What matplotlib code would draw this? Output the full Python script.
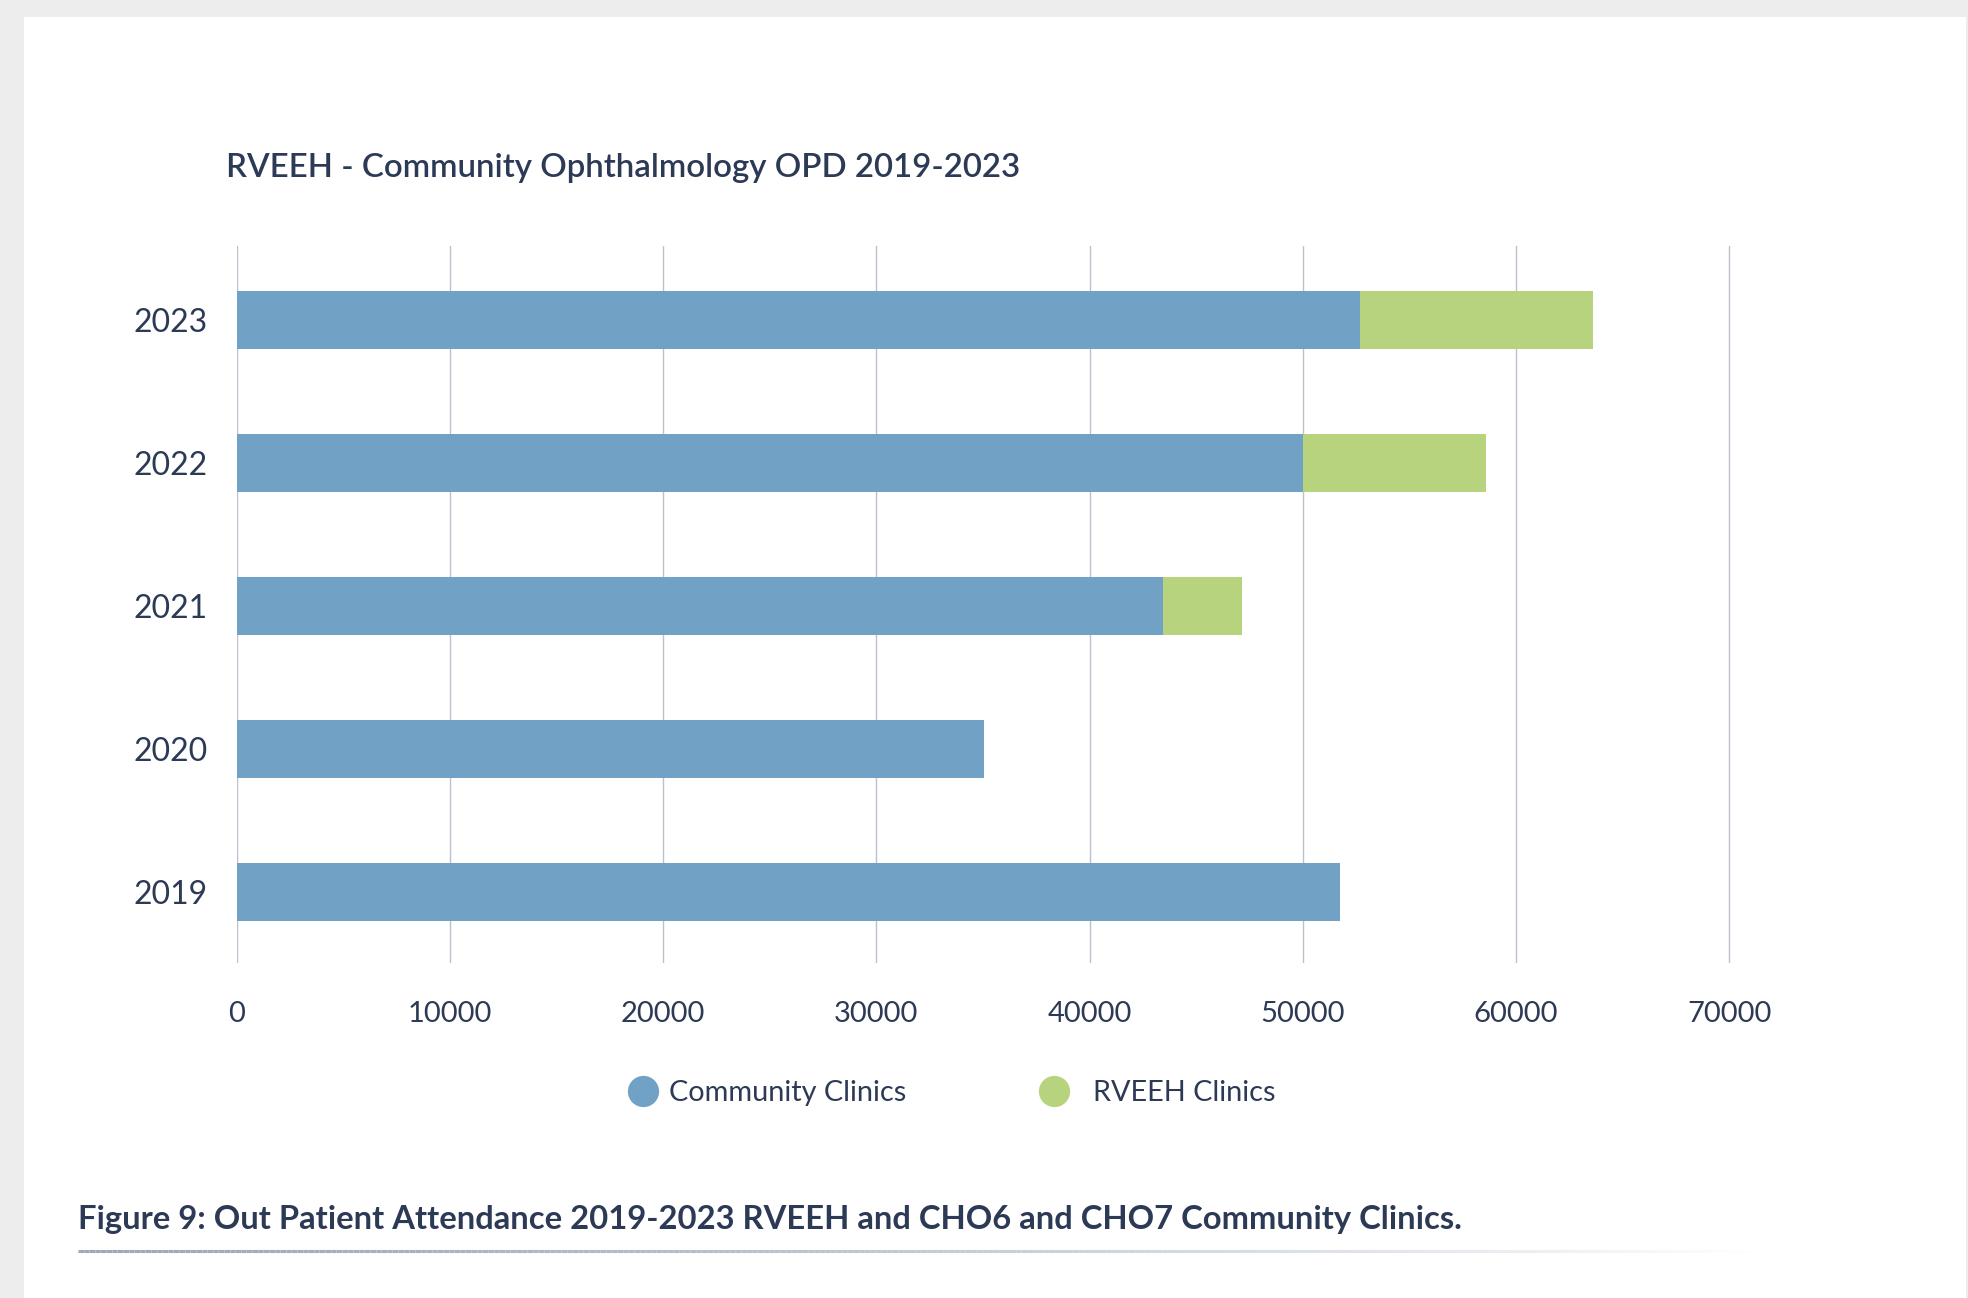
import numpy as np
import matplotlib.pyplot as plt
from matplotlib.lines import Line2D
from matplotlib.patches import Rectangle
from matplotlib.collections import LineCollection

# data
years = ['2019', '2020', '2021', '2022', '2023']
community = [51750, 35050, 43470, 50000, 52680]
rveeh = [0, 0, 3680, 8600, 10930]
xticks = [0, 10000, 20000, 30000, 40000, 50000, 60000, 70000]

title = 'RVEEH - Community Ophthalmology OPD 2019-2023'
caption = 'Figure 9: Out Patient Attendance 2019-2023 RVEEH and CHO6 and CHO7 Community Clinics.'

blue = '#71a2c6'
green = '#b8d37e'
text_col = '#2c3a56'
grid_col = '#bfbfcd'

W, H = 1968, 1298
fig = plt.figure(figsize=(W / 100, H / 100), dpi=100)
fig.patch.set_facecolor('#ededed')

# page background: grey border + white card, in pixel coords
bg = fig.add_axes([0, 0, 1, 1], zorder=-1)
bg.set_xlim(0, W)
bg.set_ylim(H, 0)
bg.axis('off')
bg.add_patch(Rectangle((24, 17), 1942, H - 17, facecolor='white', edgecolor='none'))

# fading rule under the caption
xs = np.linspace(78, 1757, 300)
segs = [[(a, 1251), (b, 1251)] for a, b in zip(xs[:-1], xs[1:])]
fade = 1.0 - np.linspace(0, 1, len(segs)) ** 1.4
rule_rgb = np.array([0x9c, 0xa9, 0xbd]) / 255
cols = [(*rule_rgb, a) for a in fade]
bg.add_collection(LineCollection(segs, colors=cols, linewidths=2.2, capstyle='butt'))

# main axes
x0_px, px_per_10k = 236.7, 213.2
xmax = 72000
left = x0_px / W
width = (xmax / 10000 * px_per_10k) / W
ax_top, ax_bot = 246, 963
ax = fig.add_axes([left, 1 - ax_bot / H, width, (ax_bot - ax_top) / H])
ax.set_facecolor('none')

y = np.arange(len(years))
ax.barh(y, community, height=0.406, color=blue, zorder=3)
ax.barh(y, rveeh, left=community, height=0.406, color=green, zorder=3)

ax.set_xlim(0, xmax)
ax.set_ylim(-0.5, 4.52)
ax.set_xticks(xticks)
ax.set_xticklabels([str(v) for v in xticks], fontsize=21, color=text_col, family='Lato')
ax.set_yticks(y)
ax.set_yticklabels(years, fontsize=23, color=text_col, family='Lato')
ax.tick_params(axis='both', length=0)
ax.tick_params(axis='x', pad=27)
ax.tick_params(axis='y', pad=21)
ax.xaxis.grid(True, color=grid_col, linewidth=1.0, zorder=0)
for s in ax.spines.values():
    s.set_visible(False)

fig.text(226 / W, 1 - 177 / H, title, fontsize=23.8, color=text_col,
         family='Lato', weight='semibold', va='baseline', ha='left')

# legend: one entry per legend so each can sit where the reference has it
legend_items = [('Community Clinics', blue, 642, 0.4), ('RVEEH Clinics', green, 1053, 0.85)]
for label, colour, cx, gap in legend_items:
    h = Line2D([], [], linestyle='none', marker='o', markersize=22.5,
               markerfacecolor=colour, markeredgecolor='none')
    fig.legend([h], [label], frameon=False, loc='center left',
               bbox_to_anchor=((cx - 14.5) / W, 1 - 1093 / H),
               borderpad=0, borderaxespad=0, handlelength=1.04,
               handletextpad=gap,
               prop={'family': 'Lato', 'size': 20.8}, labelcolor=text_col)

fig.text(78 / W, 1 - 1229 / H, caption, fontsize=23.6, color=text_col,
         family='Lato', weight='bold', va='baseline', ha='left')

fig.savefig('out.png', dpi=100, facecolor=fig.get_facecolor())
